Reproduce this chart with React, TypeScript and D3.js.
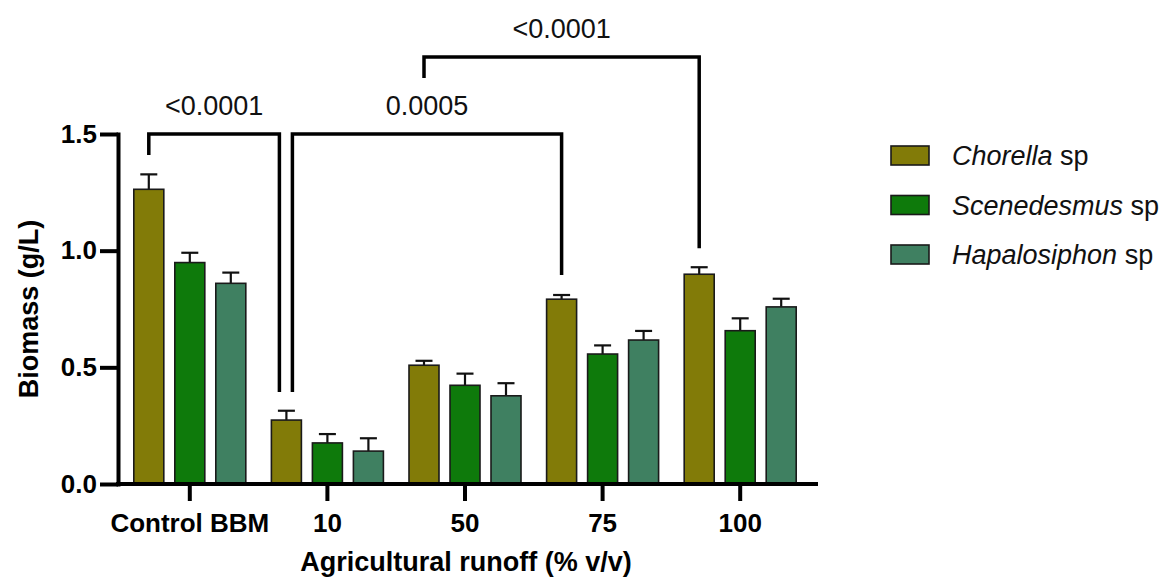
import React, { useEffect, useRef } from "react";
import * as d3 from "d3";

// values (g/L), mean and upper error
const categories = ["Control BBM", "10", "50", "75", "100"];
const seriesNames = ["Chorella", "Scenedesmus", "Hapalosiphon"];
const seriesColors = ["#827b08", "#0e7a0b", "#3f8061"];

const chorellaMean = [1.263, 0.274, 0.509, 0.792, 0.899];
const chorellaErr = [0.064, 0.04, 0.019, 0.018, 0.03];
const scenedesmusMean = [0.949, 0.176, 0.423, 0.557, 0.657];
const scenedesmusErr = [0.042, 0.038, 0.05, 0.037, 0.053];
const hapalosiphonMean = [0.86, 0.141, 0.378, 0.617, 0.759];
const hapalosiphonErr = [0.046, 0.055, 0.054, 0.039, 0.035];

const yTicks = [0, 0.5, 1.0, 1.5];

// significance brackets: from / to category (Chorella bar), bracket level, leg ends, p label
const bracketFrom = ["Control BBM", "10", "50"];
const bracketTo = ["10", "75", "100"];
const bracketLevel = [1.5, 1.5, 1.83];
const bracketLeftEnd = [1.41, 0.394, 1.74];
const bracketRightEnd = [0.394, 0.896, 1.01];
const bracketLabels = ["<0.0001", "0.0005", "<0.0001"];

const FONT = "'Liberation Sans', Arial, Helvetica, sans-serif";

const App = () => {
  const chartRef = useRef<SVGSVGElement | null>(null);

  useEffect(() => {
    const width = 1169;
    const height = 578;

    const svg = d3
      .select(chartRef.current)
      .attr("width", width)
      .attr("height", height);
    svg.selectAll("*").remove();

    const x = d3.scaleBand().domain(categories).range([121, 809]).padding(0);
    const xs = d3
      .scaleBand()
      .domain(seriesNames)
      .range([x.bandwidth() / 2 - 56, x.bandwidth() / 2 + 56])
      .paddingInner(11 / 41)
      .paddingOuter(0);
    const y = d3.scaleLinear().domain([0, 1.5]).range([484, 134]);

    const means = [chorellaMean, scenedesmusMean, hapalosiphonMean];
    const errs = [chorellaErr, scenedesmusErr, hapalosiphonErr];

    const rows = [];
    seriesNames.forEach((s, si) => {
      categories.forEach((c, ci) => {
        rows.push({ cat: c, series: s, si, mean: means[si][ci], err: errs[si][ci] });
      });
    });

    // error bars (upper only), drawn under bars
    const eb = svg.append("g").attr("stroke", "#111").attr("stroke-width", 2.2);
    eb.selectAll("line.stem")
      .data(rows)
      .join("line")
      .attr("class", "stem")
      .attr("x1", (d) => x(d.cat) + xs(d.series) + xs.bandwidth() / 2)
      .attr("x2", (d) => x(d.cat) + xs(d.series) + xs.bandwidth() / 2)
      .attr("y1", (d) => y(d.mean))
      .attr("y2", (d) => y(d.mean + d.err));
    eb.selectAll("line.cap")
      .data(rows)
      .join("line")
      .attr("class", "cap")
      .attr("x1", (d) => x(d.cat) + xs(d.series) + xs.bandwidth() / 2 - 8.5)
      .attr("x2", (d) => x(d.cat) + xs(d.series) + xs.bandwidth() / 2 + 8.5)
      .attr("y1", (d) => y(d.mean + d.err))
      .attr("y2", (d) => y(d.mean + d.err));

    // bars
    svg
      .append("g")
      .selectAll("rect")
      .data(rows)
      .join("rect")
      .attr("x", (d) => x(d.cat) + xs(d.series))
      .attr("y", (d) => y(d.mean))
      .attr("width", xs.bandwidth())
      .attr("height", (d) => y(0) - y(d.mean))
      .attr("fill", (d) => seriesColors[d.si])
      .attr("stroke", "#1a1a1a")
      .attr("stroke-width", 1.6);

    // y axis
    const yAxis = d3
      .axisLeft(y)
      .tickValues(yTicks)
      .tickFormat(d3.format(".1f"))
      .tickSize(18)
      .tickSizeOuter(0)
      .tickPadding(3);
    svg
      .append("g")
      .attr("transform", "translate(118,0)")
      .call(yAxis)
      .call((g) => g.select(".domain").attr("stroke", "#000").attr("stroke-width", 4).attr("stroke-linecap", "square"))
      .call((g) => g.selectAll(".tick line").attr("stroke", "#000").attr("stroke-width", 4))
      .call((g) =>
        g
          .selectAll(".tick text")
          .attr("fill", "#000")
          .attr("font-family", FONT)
          .attr("font-weight", "bold")
          .attr("font-size", 26)
      );

    // x axis
    const xAxis = d3.axisBottom(x).tickSize(17).tickSizeOuter(0);
    svg
      .append("g")
      .attr("transform", "translate(0,484)")
      .call(xAxis)
      .call((g) => g.select(".domain").remove())
      .call((g) => g.selectAll(".tick line").attr("stroke", "#000").attr("stroke-width", 4))
      .call((g) =>
        g
          .selectAll(".tick text")
          .attr("fill", "#000")
          .attr("y", 48)
          .attr("dy", 0)
          .attr("font-family", FONT)
          .attr("font-weight", "bold")
          .attr("font-size", 26)
      );
    svg
      .append("line")
      .attr("x1", 116)
      .attr("x2", 818)
      .attr("y1", 484)
      .attr("y2", 484)
      .attr("stroke", "#000")
      .attr("stroke-width", 4);

    // axis titles
    svg
      .append("text")
      .attr("x", 466)
      .attr("y", 571)
      .attr("text-anchor", "middle")
      .attr("font-family", FONT)
      .attr("font-weight", "bold")
      .attr("font-size", 27)
      .text("Agricultural runoff (% v/v)");
    svg
      .append("text")
      .attr("transform", `translate(38,${(y(0) + y(1.5)) / 2}) rotate(-90)`)
      .attr("text-anchor", "middle")
      .attr("font-family", FONT)
      .attr("font-weight", "bold")
      .attr("font-size", 27)
      .text("Biomass (g/L)");

    // significance brackets
    const chorellaX = (c) => x(c) + xs("Chorella") + xs.bandwidth() / 2;
    const br = svg.append("g");
    bracketLabels.forEach((label, i) => {
      // first two brackets share the "10" bar, so nudge the legs apart
      const x1 = chorellaX(bracketFrom[i]) + (i === 1 ? 6 : 0);
      const x2 = chorellaX(bracketTo[i]) + (i === 0 ? -7 : 0);
      const path = d3.path();
      path.moveTo(x1, y(bracketLeftEnd[i]));
      path.lineTo(x1, y(bracketLevel[i]));
      path.lineTo(x2, y(bracketLevel[i]));
      path.lineTo(x2, y(bracketRightEnd[i]));
      br.append("path")
        .attr("d", path.toString())
        .attr("fill", "none")
        .attr("stroke", "#000")
        .attr("stroke-width", 3.5);
      br.append("text")
        .attr("x", (x1 + x2) / 2)
        .attr("y", y(bracketLevel[i]) - 19)
        .attr("text-anchor", "middle")
        .attr("font-family", FONT)
        .attr("font-size", 27)
        .attr("fill", "#111")
        .text(label);
    });

    // legend
    const legend = svg.append("g").attr("transform", "translate(891,146)");
    seriesNames.forEach((s, i) => {
      const row = legend.append("g").attr("transform", `translate(0,${i * 49.5})`);
      row.append("rect")
        .attr("width", 38)
        .attr("height", 19)
        .attr("fill", seriesColors[i])
        .attr("stroke", "#1a1a1a")
        .attr("stroke-width", 1.6);
      const t = row
        .append("text")
        .attr("x", 61)
        .attr("y", 19)
        .attr("font-family", FONT)
        .attr("font-size", 27)
        .attr("fill", "#111");
      t.append("tspan").attr("font-style", "italic").text(s);
      t.append("tspan").text(" sp");
    });
  }, []);

  return (
    <div style={{ position: "absolute", left: 0, top: 0 }}>
      <svg ref={chartRef} style={{ display: "block", background: "#fff" }}></svg>
    </div>
  );
};

export default App;
